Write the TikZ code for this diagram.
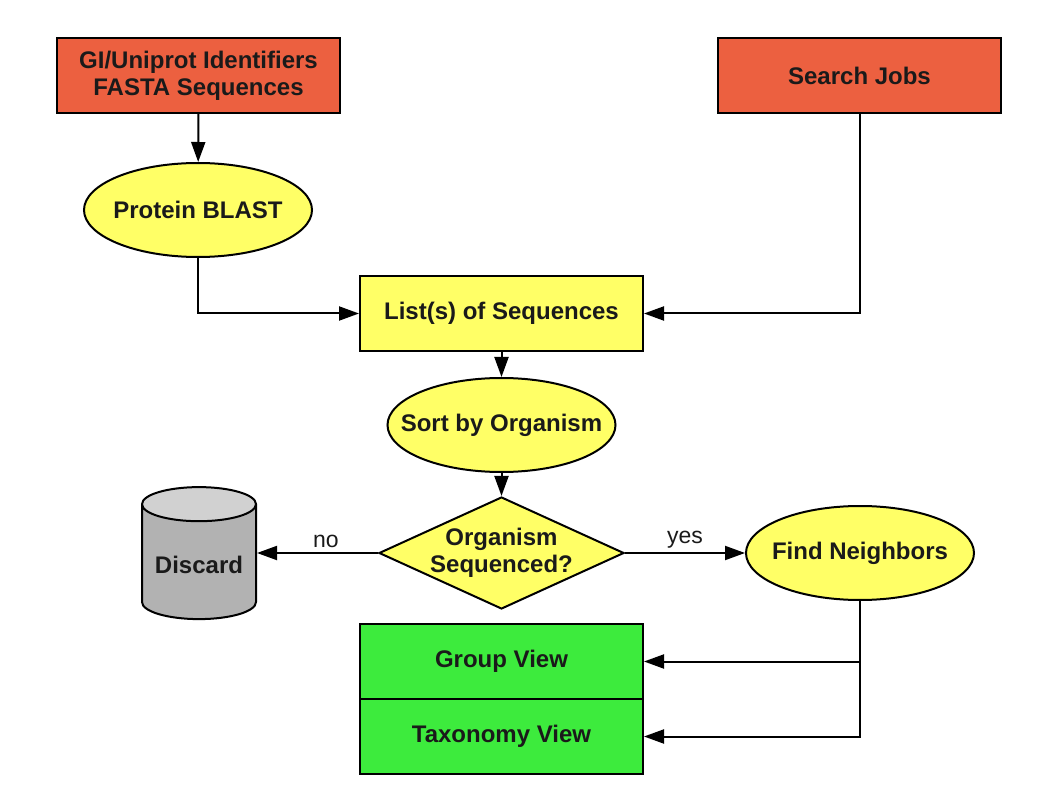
\documentclass[tikz,border=0pt]{standalone}
\usepackage{fontspec}
\setmainfont{Liberation Sans}
\usepackage{xcolor}
\usepackage{tikz}
\usetikzlibrary{shapes.geometric,arrows.meta}
\definecolor{inred}{RGB}{236,96,64}
\definecolor{procyellow}{RGB}{255,255,102}
\definecolor{outgreen}{RGB}{61,235,61}
\definecolor{textgray}{RGB}{26,26,26}
\tikzstyle{input} = [rectangle, minimum width=283pt, minimum height=75pt, align=center, draw=black, fill=inred]
\tikzstyle{process} = [rectangle, minimum width=283pt, minimum height=75pt, align=center, draw=black, fill=procyellow]
\tikzstyle{task} = [ellipse, minimum width=228pt, minimum height=94pt, inner xsep=-24pt, inner ysep=0pt, align=center, draw=black, fill=procyellow]
\tikzstyle{decision} = [diamond, aspect=2.19, minimum width=245pt, minimum height=112pt, inner sep=-3pt, align=center, draw=black, fill=procyellow]
\tikzstyle{store} = [cylinder, shape border rotate=90, aspect=0.36, minimum width=114pt, minimum height=132pt, draw=black, cylinder uses custom fill, cylinder body fill=black!30, cylinder end fill=black!18]
\tikzstyle{output} = [rectangle, minimum width=283pt, minimum height=75pt, align=center, draw=black, fill=outgreen]
\tikzstyle{arrow} = [line width=2pt,-{Triangle[length=20pt,width=14pt]}]
\tikzstyle{label} = [font=\fontsize{23}{27}\selectfont, text=textgray, inner sep=4pt]

\begin{document}
\begin{tikzpicture}[x=1pt, y=-1pt, every node/.style={line width=2pt, text=textgray, font=\bfseries\fontsize{24}{27}\selectfont}]

	\useasboundingbox (0,0) rectangle (1058,794);

	\node (ids) [input] at (198.5,75.5) {GI/Uniprot Identifiers\\FASTA Sequences};
	\node (jobs) [input] at (859.5,75.5) {Search Jobs};
	\node (blast) [task] at (198,210) {Protein BLAST};
	\node (list) [process] at (501.5,313.5) {List(s) of Sequences};
	\node (sort) [task] at (501.5,425) {Sort by Organism};
	\node (sequenced) [decision] at (501.5,553) {Organism\\Sequenced?};
	\node (discard) [store] at (199,565) {Discard};
	\node (neighbors) [task] at (860,553) {Find Neighbors};
	\node (group) [output] at (501.5,661.5) {Group View};
	\node (taxonomy) [output] at (501.5,736.5) {Taxonomy View};

	\draw [arrow] (ids) -- (blast);
	\draw [arrow] (blast.south) |- (list.west);
	\draw [arrow] (jobs.south) |- (list.east);
	\draw [arrow] (list) -- (sort);
	\draw [arrow] (sort) -- (sequenced);
	\draw [arrow] (sequenced.west) -- node[label, above, pos=0.43] {no} (discard.east |- sequenced.west);
	\draw [arrow] (sequenced.east) -- node[label, above] {yes} (neighbors.west);
	\draw [arrow] (neighbors.south) |- (group.east);
	\draw [arrow] (neighbors.south) |- (taxonomy.east);

\end{tikzpicture}
\end{document}
